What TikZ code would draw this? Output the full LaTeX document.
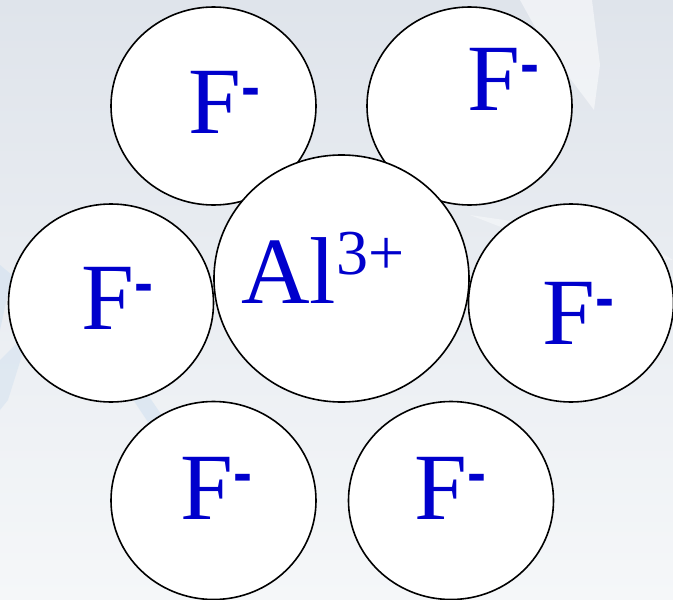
\documentclass[tikz,border=0pt]{standalone}
\usepackage{fontspec}
\setmainfont{Liberation Serif}
\newfontfamily\dashfont{Liberation Sans}
\usetikzlibrary{shapes.geometric}
\definecolor{ionblue}{RGB}{0,0,204}
\definecolor{bgtop}{RGB}{223,228,235}
\definecolor{bgbot}{RGB}{245,247,249}
\definecolor{streak}{RGB}{210,225,240}
\newcommand{\fminus}{F\raisebox{27pt}{\fontsize{57}{57}\dashfont\bfseries -}}
\begin{document}
\begin{tikzpicture}[x=1pt,y=-1pt,
  ion/.style={ellipse,draw=black,line width=1.6pt,fill=white,inner sep=0pt},
  fion/.style={ion,minimum width=205pt,minimum height=198pt},
  alion/.style={ion,minimum width=255pt,minimum height=247pt},
  lbl/.style={text=ionblue,inner sep=0pt,anchor=base west,font=\fontsize{95}{95}\selectfont}]
  \useasboundingbox (0,0) rectangle (673,600);
  \shade[top color=bgtop,bottom color=bgbot] (0,0) rectangle (673,600);
  \fill[white,opacity=0.5] (520,0) -- (592,0) -- (600,65) -- (594,110) -- (545,45) -- cycle;
  \fill[streak,opacity=0.6] (0,265) -- (12,275) -- (0,330) -- cycle;
  \fill[streak,opacity=0.5] (0,360) -- (30,330) -- (8,400) -- (0,410) -- cycle;
  \fill[streak,opacity=0.6] (130,395) -- (148,395) -- (165,420) -- (150,425) -- cycle;
  \fill[white,opacity=0.4] (470,215) -- (640,240) -- (673,260) -- (560,250) -- cycle;
  % fluoride ions
  \node[fion] (ftl) at (213.5,106) {};
  \node[fion] (ftr) at (469.5,106) {};
  \node[fion] (fl)  at (111,303) {};
  \node[fion] (fr)  at (571,303) {};
  \node[fion] (fbl) at (213.5,500.5) {};
  \node[fion] (fbr) at (451,500.5) {};
  % aluminium ion
  \node[alion] (al) at (341.5,278.5) {};
  % labels
  \node[lbl] (tftl) at (188,133) {\fminus};
  \node[lbl] (tftr) at (467,110) {\fminus};
  \node[lbl] (tfl)  at (81,329) {\fminus};
  \node[lbl] (tfr)  at (542,344) {\fminus};
  \node[lbl] (tfbl) at (180,519) {\fminus};
  \node[lbl] (tfbr) at (414,519) {\fminus};
  \node[lbl] (tal)  at (241,303.5) {Al\raisebox{29.5pt}{\fontsize{64}{64}\selectfont 3+}};
\end{tikzpicture}
\end{document}
